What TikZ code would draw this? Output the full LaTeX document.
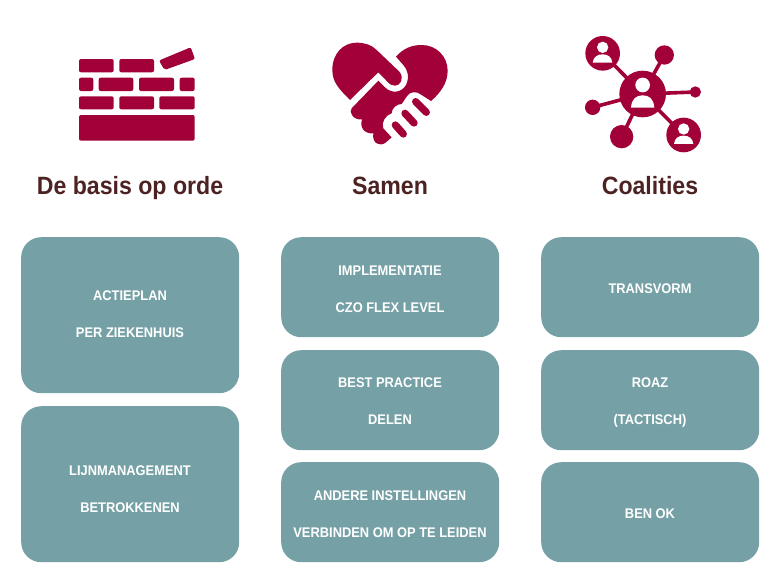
\documentclass[tikz,border=0pt]{standalone}
\usepackage{fontspec}
\setmainfont{Liberation Sans}
\newfontfamily\panelfont[FakeStretch=0.92]{Liberation Sans}
\newfontfamily\headfont[FakeStretch=0.925]{Liberation Sans}
\definecolor{crimson}{HTML}{A20038}
\definecolor{tealbox}{HTML}{75A1A6}
\definecolor{titlebrown}{HTML}{4D2222}
\tikzset{
  panel/.style={fill=tealbox,rounded corners=20pt,minimum width=218pt,inner sep=0pt,anchor=north west},
  paneltext/.style={text=white,font=\panelfont\fontsize{14}{37}\selectfont\bfseries,align=center,inner sep=0pt},
  heading/.style={text=titlebrown,font=\headfont\fontsize{25}{30}\selectfont\bfseries,inner sep=0pt,anchor=base},
  brick/.style={fill=crimson,rounded corners=2pt},
  glyph/.style={shift={(#1)},x=0.3333pt,y=-0.3333pt},
}
\begin{document}
\begin{tikzpicture}[x=1pt,y=-1pt]
\useasboundingbox[fill=white] (0,0) rectangle (780,587);

% wall of bricks
\fill[brick] (79,59) rectangle (113.7,72.3);
\fill[brick] (119.3,59) rectangle (154,72.3);
\fill[brick] (159,60.5) -- (190.7,47.3) -- (195,59) -- (164.5,70) -- cycle;
\fill[brick] (79,77.7) rectangle (93.3,91);
\fill[brick] (98.7,77.7) rectangle (133.3,91);
\fill[brick] (139,77.7) rectangle (174,91);
\fill[brick] (179.7,77.7) rectangle (194.7,91);
\fill[brick] (79,96.3) rectangle (113.7,109.3);
\fill[brick] (119.3,96.3) rectangle (154,109.3);
\fill[brick] (159.3,96.3) rectangle (194.7,109.3);
\fill[brick] (79,115) rectangle (194.7,140.7);

% heart formed by a handshake
\begin{scope}[glyph={320,30}]
  \fill[crimson] (90,210) .. controls (55,175) and (37,155) .. (37,120)
    .. controls (37,70) and (70,38) .. (110,38)
    .. controls (135,38) and (155,45) .. (170,60)
    -- (238,125) .. controls (255,145) and (240,168) .. (225,167)
    .. controls (215,167) and (208,162) .. (205,158)
    -- (175,127) -- cycle;
  \fill[crimson] (228,80) .. controls (250,55) and (275,45) .. (305,45)
    .. controls (350,45) and (383,80) .. (383,122)
    .. controls (383,160) and (360,190) .. (333,213)
    -- (305,195) .. controls (290,182) and (270,185) .. (262,197)
    -- (245,222) .. controls (230,222) and (215,235) .. (215,250)
    .. controls (195,255) and (183,280) .. (190,295)
    -- (215,322)
    -- (198,337) .. controls (180,352) and (155,340) .. (160,310)
    .. controls (135,312) and (118,295) .. (126,268)
    .. controls (100,272) and (85,245) .. (95,235)
    -- (175,152) -- (195,172)
    .. controls (215,192) and (245,188) .. (258,165)
    .. controls (270,140) and (262,118) .. (250,105) -- cycle;
  % fingers of the clasping hand
  \draw[crimson,line width=7.3pt,line cap=round] (226,285) -- (250,312);
  \draw[crimson,line width=7.3pt,line cap=round] (255,250) -- (282,279);
  \draw[crimson,line width=7.3pt,line cap=round] (287,215) -- (319,247);
\end{scope}

% network of people
\begin{scope}[glyph={575,30}]
  \coordinate (hub) at (203,192);
  \coordinate (pa) at (83,70);
  \coordinate (pb) at (268,75);
  \coordinate (pc) at (361,186);
  \coordinate (pd) at (53,232);
  \coordinate (pe) at (140,320);
  \coordinate (pf) at (326,315);
  \foreach \p in {pa,pb,pc,pd,pe,pf}
    \draw[crimson,line width=3.6pt] (hub) -- (\p);
  \fill[crimson] (hub) circle[radius=70];
  \fill[crimson] (pa) circle[radius=52];
  \fill[crimson] (pb) circle[radius=29];
  \fill[crimson] (pc) circle[radius=17];
  \fill[crimson] (pd) circle[radius=23];
  \fill[crimson] (pe) circle[radius=35];
  \fill[crimson] (pf) circle[radius=52];
  % the people
  \fill[white] (203,165) circle[radius=22];
  \fill[white] (168,233) .. controls (170,205) and (185,196) .. (203,196)
    .. controls (221,196) and (236,205) .. (238,233) -- cycle;
  \fill[white] (83,52) circle[radius=17];
  \fill[white] (53,98) .. controls (55,80) and (68,73) .. (83,73)
    .. controls (98,73) and (110,80) .. (112,98) -- cycle;
  \fill[white] (326,297) circle[radius=17];
  \fill[white] (297,342) .. controls (299,324) and (311,317) .. (326,317)
    .. controls (341,317) and (353,324) .. (355,342) -- cycle;
\end{scope}

% column headings
\node[heading] (h1) at (130,194) {De basis op orde};
\node[heading] (h2) at (390,194) {Samen};
\node[heading] (h3) at (650,194) {Coalities};

% panels
\node[panel,minimum height=156pt] (a1) at (21,237) {};
\node[panel,minimum height=156pt] (a2) at (21,406) {};
\node[panel,minimum height=100pt] (b1) at (281,237) {};
\node[panel,minimum height=100pt] (b2) at (281,350) {};
\node[panel,minimum height=100pt] (b3) at (281,462) {};
\node[panel,minimum height=100pt] (c1) at (541,237) {};
\node[panel,minimum height=100pt] (c2) at (541,350) {};
\node[panel,minimum height=100pt] (c3) at (541,462) {};

\node[paneltext] (ta1) at (130,314.5) {ACTIEPLAN\\PER ZIEKENHUIS};
\node[paneltext] (ta2) at (130,489.5) {LIJNMANAGEMENT\\BETROKKENEN};
\node[paneltext] (tb1) at (390,289.5) {IMPLEMENTATIE\\CZO FLEX LEVEL};
\node[paneltext] (tb2) at (390,401.5) {BEST PRACTICE\\DELEN};
\node[paneltext] (tb3) at (390,514.5) {ANDERE INSTELLINGEN\\VERBINDEN OM OP TE LEIDEN};
\node[paneltext] (tc1) at (650,289) {TRANSVORM};
\node[paneltext] (tc2) at (650,403) {ROAZ\\(TACTISCH)};
\node[paneltext] (tc3) at (650,514) {BEN OK};
\end{tikzpicture}
\end{document}
